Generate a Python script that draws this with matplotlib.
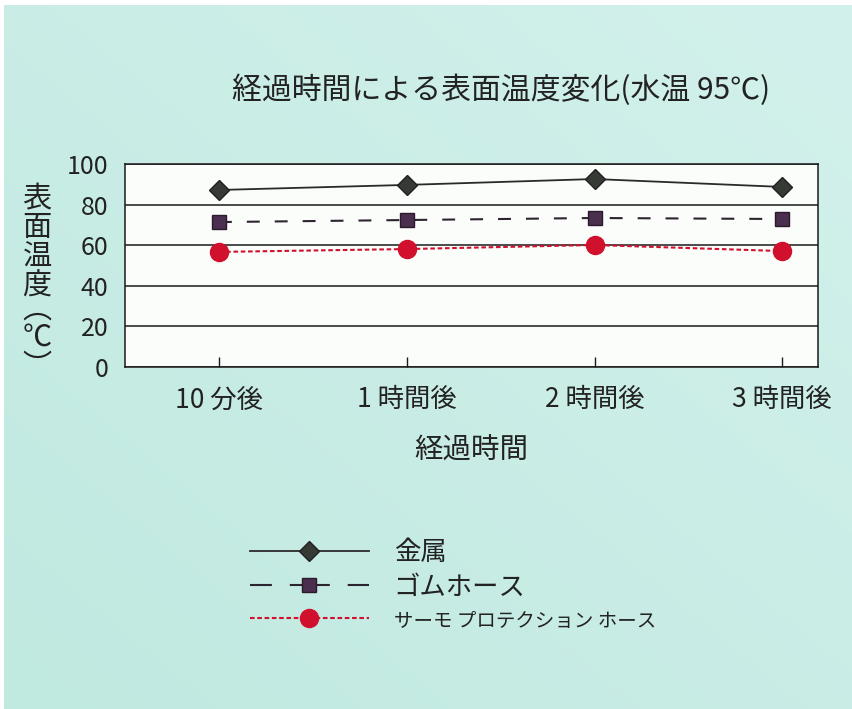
import matplotlib
matplotlib.use("Agg")
import matplotlib.pyplot as plt
from matplotlib.lines import Line2D
import numpy as np

plt.rcParams['font.family'] = ['Noto Sans CJK JP', 'DejaVu Sans']

categories = ["10 分後", "1 時間後", "2 時間後", "3 時間後"]
metal = [87.2, 89.7, 92.6, 88.7]
rubber = [71.4, 72.4, 73.4, 72.9]
thermo = [56.7, 58.1, 60.1, 57.1]
series_names = ["金属", "ゴムホース", "サーモ プロテクション ホース"]
yticks = [0, 20, 40, 60, 80, 100]

fig = plt.figure(figsize=(8.52, 7.09), dpi=100)
fig.patch.set_facecolor("white")

# background panel (slight white border at top/left like the scan)
bgax = fig.add_axes([4/852, 0, 1 - 4/852, 1 - 5/709])
grad = np.linspace(0, 1, 256)
gx, gy = np.meshgrid(grad, grad)
g = 0.5 * gx + 0.5 * (1 - gy)
c1 = np.array([0xc0, 0xe9, 0xe0]) / 255
c2 = np.array([0xd3, 0xf1, 0xec]) / 255
img = c1[None, None, :] * (1 - g[..., None]) + c2[None, None, :] * g[..., None]
bgax.imshow(img, aspect='auto', extent=[0, 1, 0, 1], origin='upper')
bgax.set_axis_off()

ax = fig.add_axes([125/852, 1 - 367/709, (818 - 125)/852, (367 - 164)/709])
ax.set_facecolor("#fbfdfb")
x = np.arange(len(categories))

styles = [
    dict(color="#2a2a2a", lw=1.3, marker="D", markersize=10,
         markerfacecolor="#353a35", markeredgecolor="#202020"),
    dict(color="#2e2430", lw=1.5, marker="s", markersize=10,
         markerfacecolor="#4b2f4e", markeredgecolor="#2a1a2c"),
    dict(color="#d0102c", lw=1.5, dashes=(2.2, 1.3), marker="o", markersize=13,
         markerfacecolor="#d0102c", markeredgecolor="#d0102c"),
]

ax.plot(x, metal, zorder=5, **styles[0])
ax.plot(x, rubber, dashes=(6.2, 7.2), zorder=5, **styles[1])
ax.plot(x, thermo, zorder=5, **styles[2])

ax.set_xlim(-0.5, 3.19)
ax.set_ylim(0, 100)
ax.set_yticks(yticks)
ax.set_yticklabels([str(v) for v in yticks], fontsize=18, color="#222222")
ax.yaxis.grid(True, color="#1a1a1a", lw=1.1)
ax.set_axisbelow(True)
ax.tick_params(axis='y', length=0, pad=12)
ax.set_xticks(x)
ax.set_xticklabels(categories, fontsize=19, color="#222222")
ax.tick_params(axis='x', direction='in', length=7, width=1, pad=14, color="#1a1a1a")
for s in ax.spines.values():
    s.set_color("#1a1a1a")
    s.set_linewidth(1.1)

ax.set_xlabel("経過時間", fontsize=20.5, color="#222222", labelpad=16)

fig.text(501/852, 1 - 90/709, "経過時間による表面温度変化(水温 95℃)", fontsize=21.5,
         ha='center', va='center', color="#222222")

fig.text(37/852, 1 - 243/709, "表\n面\n温\n度", fontsize=21, ha='center', va='center',
         color="#222222", linespacing=0.96)
fig.text(37/852, 1 - 338/709, "︵\n℃\n︶", fontsize=21, ha='center', va='center',
         color="#222222", linespacing=0.95)

handles = [
    Line2D([], [], **styles[0]),
    Line2D([], [], dashes=(10.5, 8.6, 19.2, 8.6), **styles[1]),
    Line2D([], [], **styles[2]),
]
leg = fig.legend(handles, series_names, loc='upper left',
                 bbox_to_anchor=(226/852, 1 - 515/709), frameon=False,
                 fontsize=19, handlelength=4.5, handletextpad=0.95, labelspacing=0.3,
                 labelcolor="#222222")
leg.get_texts()[2].set_fontsize(14)

fig.savefig("out.png", dpi=100)
